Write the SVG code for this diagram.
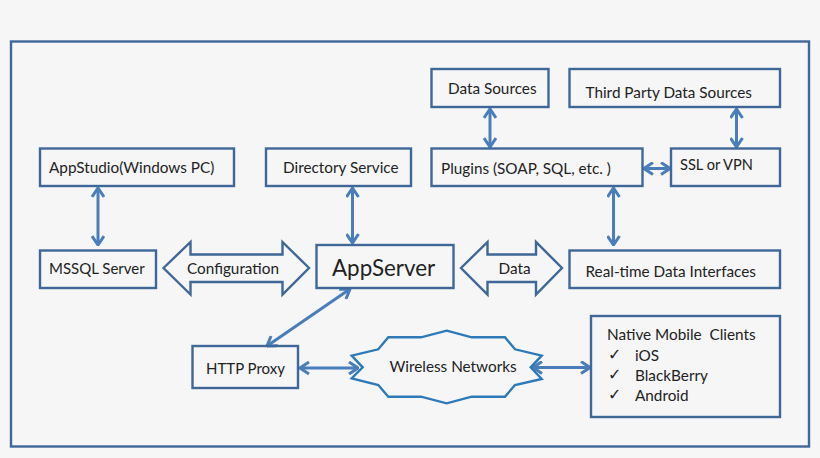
<svg xmlns="http://www.w3.org/2000/svg" width="820" height="458" viewBox="0 0 820 458">
<style>
text{font-family:"Lato","Open Sans","Liberation Sans",sans-serif;font-size:15.3px;fill:#222;white-space:pre}
.b{fill:none;stroke:#3f6797;stroke-width:2.4}
.w{fill:none;stroke:#2e7ab8;stroke-width:2.4;stroke-linejoin:miter}
.c{fill:none;stroke:#4a7ebb;stroke-width:3;marker-start:url(#a);marker-end:url(#a)}
.k{font-family:"DejaVu Sans",sans-serif;font-size:16px;font-weight:bold}
.s{font-size:14.6px}
.m{font-size:15px}
</style>
<defs>
<marker id="a" viewBox="0 0 12 14" refX="11" refY="7" markerWidth="12" markerHeight="14" markerUnits="userSpaceOnUse" orient="auto-start-reverse">
<path d="M2 1 L11 7 L2 13" fill="none" stroke="#4a7ebb" stroke-width="3"/>
</marker>
</defs>
<rect width="820" height="458" fill="#f6f6f7"/>
<rect class="b" x="11" y="41.500" width="798" height="405"/>
<g id="connectors">
<line class="c" x1="490" y1="109" x2="490" y2="147"/>
<line class="c" x1="736.500" y1="109" x2="736.500" y2="147"/>
<line class="c" x1="644" y1="168.500" x2="670" y2="168.500"/>
<line class="c" x1="613.500" y1="188" x2="613.500" y2="245"/>
<line class="c" x1="98" y1="188" x2="98" y2="245"/>
<line class="c" x1="352.500" y1="188" x2="352.500" y2="243"/>
<line class="c" x1="350" y1="289" x2="267" y2="346"/>
<line class="c" x1="300" y1="368" x2="358" y2="368"/>
<line class="c" x1="533" y1="367.500" x2="590" y2="367.500"/>
</g>
<g id="data-sources"><rect class="b" x="431.500" y="69" width="117" height="38"/><text x="448" y="94">Data Sources</text></g>
<g id="third-party"><rect class="b" x="569.500" y="69" width="210.500" height="38"/><text x="585.500" y="98">Third Party Data Sources</text></g>
<g id="plugins"><rect class="b" x="431.500" y="148.500" width="211" height="37.500"/><text x="441" y="174">Plugins (SOAP, SQL, etc. )</text></g>
<g id="ssl-vpn"><rect class="b" x="671" y="148.500" width="109" height="37.500"/><text class="s" x="680" y="170">SSL or VPN</text></g>
<g id="appstudio"><rect class="b" x="40" y="148.500" width="194" height="37.500"/><text x="49" y="173">AppStudio(Windows PC)</text></g>
<g id="directory"><rect class="b" x="266" y="148.500" width="145" height="37.500"/><text x="283" y="173">Directory Service</text></g>
<g id="mssql"><rect class="b" x="40" y="250.500" width="116" height="37.500"/><text class="m" x="49" y="274">MSSQL Server</text></g>
<g id="configuration"><path class="b" d="M163.500 268 L190.500 242 V254.500 H282.500 V242 L309 268 L282.500 294.500 V282 H190.500 V294.500 Z"/><text x="187" y="274">Configuration</text></g>
<g id="appserver"><rect class="b" x="316.500" y="245" width="137" height="43"/><text x="332" y="276" style="font-size:22.4px">AppServer</text></g>
<g id="data"><path class="b" d="M461 268 L487.500 242 V254.500 H536 V242 L562 268 L536 294.500 V282 H487.500 V294.500 Z"/><text x="498.500" y="274">Data</text></g>
<g id="realtime"><rect class="b" x="569.500" y="250.500" width="210.500" height="37.500"/><text x="585.500" y="277">Real-time Data Interfaces</text></g>
<g id="http-proxy"><rect class="b" x="192.500" y="346" width="105.500" height="42"/><text class="m" x="206" y="374">HTTP Proxy</text></g>
<g id="wireless"><path class="w" d="M446.700 330.700 L471.700 337.300 H505 L515 349.300 L541.700 355.700 L530.700 367.300 L541.700 379 L515 385 L505 396.700 H471.700 L446.700 403.300 L421 396.700 H388.300 L378.300 385 L351.700 378.300 L362.700 367.300 L351.700 355.700 L378.300 349.300 L388.300 337.300 H421 Z"/><text x="389.500" y="372">Wireless Networks</text></g>
<g id="native-clients"><rect class="b" x="591" y="316" width="189" height="101"/>
<text x="607" y="340">Native Mobile  Clients</text>
<text class="k" x="608" y="360">✓</text><text x="635" y="361">iOS</text>
<text class="k" x="608" y="380">✓</text><text x="635" y="381">BlackBerry</text>
<text class="k" x="608" y="400">✓</text><text x="635" y="401">Android</text>
</g>
</svg>
